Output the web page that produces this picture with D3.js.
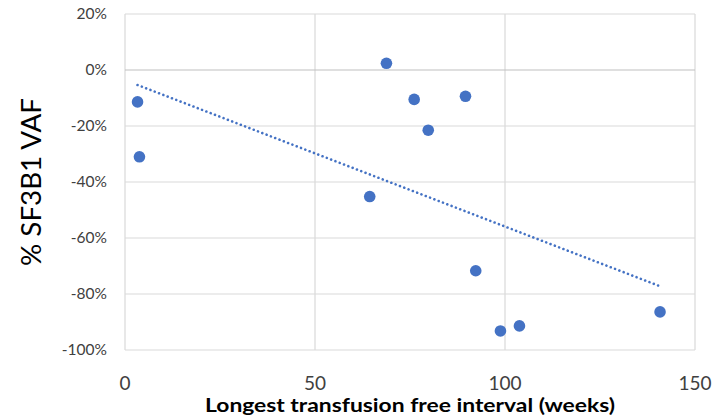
<!DOCTYPE html>
<html>
<head>
<meta charset="utf-8">
<script src="https://cdn.jsdelivr.net/npm/d3@7"></script>
<style>
  body { margin: 0; background: #fff; }
  svg { display: block; font-family: Lato, "Open Sans", sans-serif; }
</style>
</head>
<body>
<div id="chart"></div>
<script>
// longest transfusion free interval (weeks) vs change in SF3B1 VAF (%)
const weeks = [3.3, 3.8, 68.8, 76.1, 89.6, 79.8, 64.4, 92.3, 98.8, 103.8, 140.8];
const vaf = [-11.4, -31, 2.4, -10.5, -9.4, -21.5, -45.2, -71.7, -93.2, -91.4, -86.4];
const xTicks = [0, 50, 100, 150];
const yTicks = [20, 0, -20, -40, -60, -80, -100];

const width = 728,
  height = 418;
const margin = { top: 14, right: 33, bottom: 68, left: 125 };
const blue = "#4472C4";

const svg = d3
  .select("#chart")
  .append("svg")
  .attr("width", width)
  .attr("height", height);

const x = d3.scaleLinear().domain([0, 150]).range([margin.left, width - margin.right]);
const y = d3.scaleLinear().domain([-100, 20]).range([height - margin.bottom, margin.top]);

// gridlines
svg
  .append("g")
  .selectAll("line")
  .data(xTicks)
  .enter()
  .append("line")
  .attr("x1", (d) => x(d))
  .attr("x2", (d) => x(d))
  .attr("y1", y(20))
  .attr("y2", y(-100))
  .attr("stroke", "#d9d9d9")
  .attr("stroke-width", 1.2);

svg
  .append("g")
  .selectAll("line")
  .data(yTicks)
  .enter()
  .append("line")
  .attr("x1", x(0))
  .attr("x2", x(150))
  .attr("y1", (d) => y(d))
  .attr("y2", (d) => y(d))
  .attr("stroke", (d) => (d === 0 ? "#bfbfbf" : "#d9d9d9"))
  .attr("stroke-width", 1.2);

// y tick labels
svg
  .append("g")
  .selectAll("text")
  .data(yTicks)
  .enter()
  .append("text")
  .attr("x", x(0) - 18)
  .attr("y", (d) => y(d))
  .attr("dy", "0.35em")
  .attr("text-anchor", "end")
  .style("font-size", "15.5px")
  .style("fill", "#404040")
  .text((d) => d + "%");

// x tick labels
svg
  .append("g")
  .selectAll("text")
  .data(xTicks)
  .enter()
  .append("text")
  .attr("x", (d) => x(d))
  .attr("y", 390)
  .attr("text-anchor", "middle")
  .style("font-size", "19px")
  .style("fill", "#404040")
  .text((d) => d);

// trendline (least squares)
const mx = d3.mean(weeks),
  my = d3.mean(vaf);
const slope =
  d3.sum(weeks, (w, i) => (w - mx) * (vaf[i] - my)) / d3.sum(weeks, (w) => (w - mx) ** 2);
const icpt = my - slope * mx;
const ext = d3.extent(weeks);

svg
  .append("path")
  .datum(ext)
  .attr(
    "d",
    d3
      .line()
      .x((d) => x(d))
      .y((d) => y(icpt + slope * d))
  )
  .attr("fill", "none")
  .attr("stroke", blue)
  .attr("stroke-width", 2.6)
  .attr("stroke-linecap", "round")
  .attr("stroke-dasharray", "0.01,4.6");

// points
svg
  .append("g")
  .selectAll("circle")
  .data(weeks)
  .enter()
  .append("circle")
  .attr("cx", (d) => x(d))
  .attr("cy", (d, i) => y(vaf[i]))
  .attr("r", 5.8)
  .attr("fill", blue);

// axis titles
svg
  .append("text")
  .attr("x", (x(0) + x(150)) / 2)
  .attr("y", 412)
  .attr("text-anchor", "middle")
  .attr("textLength", 410)
  .attr("lengthAdjust", "spacingAndGlyphs")
  .style("font-size", "19.5px")
  .style("font-weight", "bold")
  .style("fill", "#000")
  .text("Longest transfusion free interval (weeks)");

svg
  .append("text")
  .attr("transform", `translate(41, ${(y(20) + y(-100)) / 2}) rotate(-90)`)
  .attr("text-anchor", "middle")
  .attr("textLength", 168)
  .attr("lengthAdjust", "spacingAndGlyphs")
  .style("font-size", "27px")
  .style("fill", "#000")
  .text("% SF3B1 VAF");
</script>
</body>
</html>
